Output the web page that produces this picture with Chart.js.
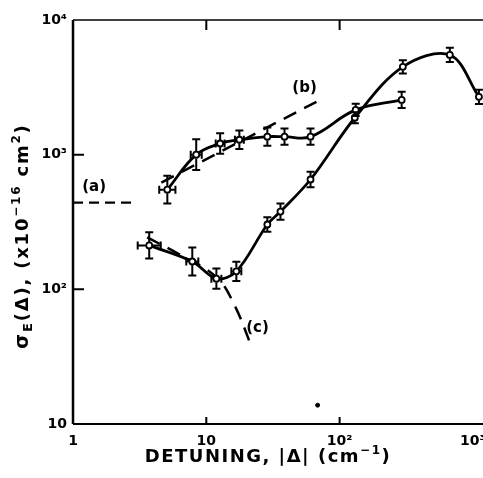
<!DOCTYPE html>
<html><head><meta charset="utf-8">
<script src="https://cdn.jsdelivr.net/npm/chart.js@4"></script>
<style>html,body{margin:0;padding:0;background:#fff;}#wrap{width:483px;height:478px;}</style>
</head><body><div id="wrap"><canvas id="c" width="483" height="478"></canvas></div>
<script>
// ---- tick labels ----
const xTickValues = [1, 10, 100, 1000];
const xTickLabels = ['1', '10', '10²', '10³'];
const yTickValues = [10, 100, 1000, 10000];
const yTickLabels = ['10', '10²', '10³', '10⁴'];

// ---- upper measured series (open circles) ----
const seriesB_x = [5.1, 8.4, 12.7, 17.7, 28.7, 38.6, 60.5, 132, 292];
const seriesB_y = [550, 1000, 1210, 1290, 1360, 1360, 1360, 2150, 2550];
const seriesB_yErr = [1.27, 1.3, 1.19, 1.17, 1.17, 1.15, 1.15, 1.11, 1.15];
const seriesB_xErr = [1.15, 1.1, 1.08, 1.08, 0, 0, 0, 0, 0];

// ---- lower measured series ----
const seriesC_x = [3.73, 7.85, 11.9, 16.8, 28.7, 36, 60.5, 130, 298, 671, 1109];
const seriesC_y = [212, 161, 120, 136, 303, 378, 654, 1880, 4490, 5500, 2690];
const seriesC_yErr = [1.25, 1.27, 1.19, 1.18, 1.13, 1.15, 1.14, 1.1, 1.12, 1.13, 1.13];
const seriesC_xErr = [1.22, 1.11, 1.09, 1.09, 0, 0, 0, 0, 0, 0, 0];

// ---- dashed theory curves ----
const curveA_x = [1, 3.0];
const curveA_y = [440, 440];
const curveB_x = [4.6, 67];
const curveB_y = [621, 2470];
const curveC_x = [3.6, 6.27, 11.9, 16.2, 22.2];
const curveC_y = [243, 182, 123, 77, 36];

// ---- curve labels ----
const annLabels = ['(a)', '(b)', '(c)'];
const annX = [1.44, 54.6, 24.2];
const annY = [570, 3130, 51.4];

// ---- stray speck in the plot ----
const speckX = [68.4];
const speckY = [13.8];

const pts = (xs, ys) => xs.map((x, i) => ({x: x, y: ys[i]}));
const FONT = '"DejaVu Sans", sans-serif';

const errorBars = {
  id: 'errorBars',
  afterDatasetsDraw(chart) {
    const ctx = chart.ctx, xs = chart.scales.x, ys = chart.scales.y;
    chart.data.datasets.forEach(ds => {
      if (!ds.yErr) return;
      ctx.save();
      ctx.strokeStyle = '#000';
      ctx.lineWidth = 2;
      ds.data.forEach((p, i) => {
        const px = xs.getPixelForValue(p.x), py = ys.getPixelForValue(p.y);
        const f = ds.yErr[i];
        if (f) {
          const y1 = ys.getPixelForValue(p.y * f), y2 = ys.getPixelForValue(p.y / f);
          ctx.beginPath();
          ctx.moveTo(px, y1); ctx.lineTo(px, py - 3.5);
          ctx.moveTo(px, py + 3.5); ctx.lineTo(px, y2);
          ctx.moveTo(px - 4, y1); ctx.lineTo(px + 4, y1);
          ctx.moveTo(px - 4, y2); ctx.lineTo(px + 4, y2);
          ctx.stroke();
        }
        const g = ds.xErr[i];
        if (g) {
          const x1 = xs.getPixelForValue(p.x / g), x2 = xs.getPixelForValue(p.x * g);
          ctx.beginPath();
          ctx.moveTo(x1, py); ctx.lineTo(px - 3.5, py);
          ctx.moveTo(px + 3.5, py); ctx.lineTo(x2, py);
          ctx.moveTo(x1, py - 4); ctx.lineTo(x1, py + 4);
          ctx.moveTo(x2, py - 4); ctx.lineTo(x2, py + 4);
          ctx.stroke();
        }
      });
      ctx.restore();
    });
  }
};

function drawRich(ctx, pieces, cx, cy, rot, spacing) {
  ctx.save();
  ctx.translate(cx, cy);
  if (rot) ctx.rotate(rot);
  ctx.letterSpacing = spacing + 'px';
  let total = 0;
  pieces.forEach(p => { ctx.font = 'bold ' + p.size + 'px ' + FONT; total += ctx.measureText(p.t).width; });
  let x = -total / 2;
  ctx.fillStyle = '#000';
  ctx.textBaseline = 'alphabetic';
  ctx.textAlign = 'left';
  pieces.forEach(p => {
    ctx.font = 'bold ' + p.size + 'px ' + FONT;
    ctx.fillText(p.t, x, 6 + (p.dy || 0));
    x += ctx.measureText(p.t).width;
  });
  ctx.restore();
}

const frame = {
  id: 'frame',
  afterDraw(chart) {
    const ctx = chart.ctx, a = chart.chartArea, xs = chart.scales.x, ys = chart.scales.y;
    ctx.save();
    ctx.strokeStyle = '#000';
    ctx.lineWidth = 2.5;
    ctx.beginPath(); ctx.moveTo(a.left, a.top); ctx.lineTo(a.left, a.bottom); ctx.stroke();
    ctx.lineWidth = 2;
    ctx.beginPath(); ctx.moveTo(a.left, a.bottom); ctx.lineTo(a.right, a.bottom); ctx.stroke();
    ctx.lineWidth = 1.5;
    ctx.beginPath(); ctx.moveTo(a.left, a.top); ctx.lineTo(a.right, a.top); ctx.stroke();
    ctx.lineWidth = 2;
    ctx.beginPath();
    [100, 1000].forEach(v => { const y = ys.getPixelForValue(v); ctx.moveTo(a.left, y); ctx.lineTo(a.left + 11, y); });
    [10, 100].forEach(v => {
      const x = xs.getPixelForValue(v);
      ctx.moveTo(x, a.top); ctx.lineTo(x, a.top + 10);
      ctx.moveTo(x, a.bottom); ctx.lineTo(x, a.bottom - 7);
    });
    ctx.stroke();
    ctx.fillStyle = '#000';
    ctx.font = 'bold 15px ' + FONT;
    ctx.textAlign = 'center'; ctx.textBaseline = 'middle';
    annLabels.forEach((t, i) => ctx.fillText(t, xs.getPixelForValue(annX[i]), ys.getPixelForValue(annY[i])));
    ctx.restore();
    drawRich(ctx, [
      {t: 'σ', size: 19},
      {t: 'E', size: 13, dy: 4},
      {t: '(Δ), (x10', size: 18},
      {t: '−16', size: 12, dy: -8},
      {t: ' cm', size: 18},
      {t: '2', size: 12, dy: -8},
      {t: ')', size: 18}
    ], 22, 236, -Math.PI / 2, 1.8);
    drawRich(ctx, [
      {t: 'DETUNING, |Δ| (cm', size: 18},
      {t: '−1', size: 12, dy: -8},
      {t: ')', size: 18}
    ], 268, 456, 0, 1.5);
  }
};

new Chart(document.getElementById('c'), {
  type: 'line',
  data: {
    datasets: [
      {data: pts(seriesB_x, seriesB_y), yErr: seriesB_yErr, xErr: seriesB_xErr,
       borderColor: '#000', borderWidth: 2.8, tension: 0.4,
       pointRadius: 3, pointBackgroundColor: '#fff', pointBorderColor: '#000', pointBorderWidth: 1.8},
      {data: pts(seriesC_x, seriesC_y), yErr: seriesC_yErr, xErr: seriesC_xErr,
       borderColor: '#000', borderWidth: 2.8, tension: 0.35,
       pointRadius: 3, pointBackgroundColor: '#fff', pointBorderColor: '#000', pointBorderWidth: 1.8},
      {data: pts(curveA_x, curveA_y), borderColor: '#000', borderWidth: 2.2, borderDash: [10, 6], pointRadius: 0},
      {data: pts(curveB_x, curveB_y), borderColor: '#000', borderWidth: 2.5, borderDash: [14, 9], pointRadius: 0},
      {data: pts(curveC_x, curveC_y), borderColor: '#000', borderWidth: 2.5, borderDash: [14, 9], pointRadius: 0, tension: 0.4},
      {data: pts(speckX, speckY), showLine: false, pointRadius: 2, pointBackgroundColor: '#000', pointBorderColor: '#000'}
    ]
  },
  options: {
    responsive: false, animation: false, devicePixelRatio: 1,
    layout: {autoPadding: false, padding: {top: 20, right: 0, left: 0, bottom: 0}},
    plugins: {legend: {display: false}, tooltip: {enabled: false}},
    scales: {
      x: {
        type: 'logarithmic', min: 1, max: 1190,
        grid: {display: false, drawTicks: false}, border: {display: false},
        afterBuildTicks: s => { s.ticks = xTickValues.map(v => ({value: v})); },
        afterFit: s => { s.height = 54; s.paddingLeft = 0; s.paddingRight = 0; },
        ticks: {autoSkip: false, maxRotation: 0, padding: 9, color: '#000',
          font: {family: FONT, weight: 'bold', size: 14},
          callback: v => xTickLabels[xTickValues.indexOf(v)]}
      },
      y: {
        type: 'logarithmic', min: 10, max: 10000,
        grid: {display: false, drawTicks: false}, border: {display: false},
        afterBuildTicks: s => { s.ticks = yTickValues.map(v => ({value: v})); },
        afterFit: s => { s.width = 73; s.paddingTop = 0; s.paddingBottom = 0; },
        ticks: {autoSkip: false, padding: 6, color: '#000',
          font: {family: FONT, weight: 'bold', size: 14},
          callback: v => yTickLabels[yTickValues.indexOf(v)]}
      }
    }
  },
  plugins: [errorBars, frame]
});
</script>
</body></html>
